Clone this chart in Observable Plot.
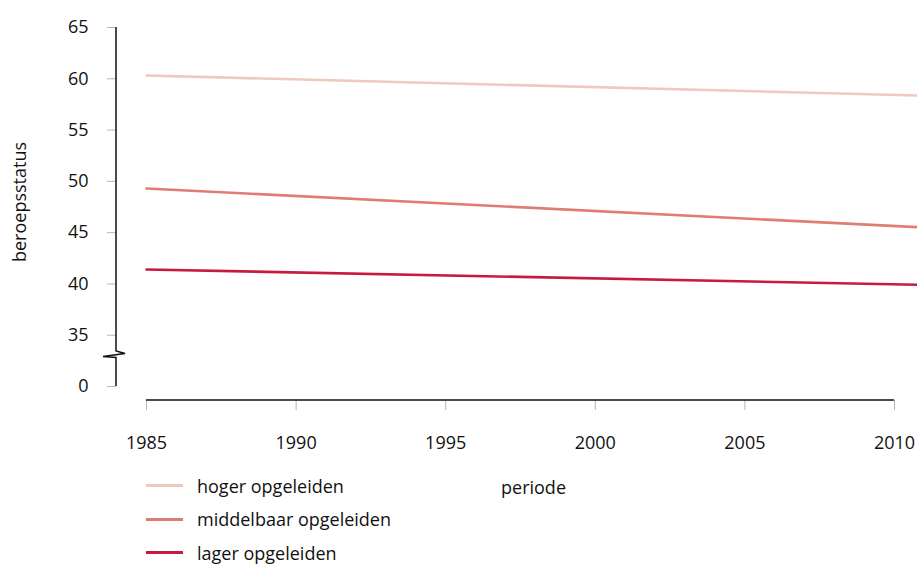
<!DOCTYPE html>
<html>
<head>
<meta charset="utf-8">
<script src="https://cdn.jsdelivr.net/npm/d3@7"></script>
<script src="https://cdn.jsdelivr.net/npm/@observablehq/plot@0.6"></script>
<style>
  html, body { margin: 0; padding: 0; background: #fff; overflow: hidden; }
  #wrap { position: relative; width: 917px; height: 565px; font-family: "Open Sans", sans-serif; color: #111; }
  #legend { position: absolute; left: 146px; top: 469px; font-size: 18px; }
  .row { display: flex; align-items: center; height: 33.5px; }
  .sw { width: 37px; height: 3px; margin-right: 14px; }
</style>
</head>
<body>
<div id="wrap"></div>
<script>
// Data
const years = [1985, 2011];
const seriesNames = ["hoger opgeleiden", "middelbaar opgeleiden", "lager opgeleiden"];
const hoger = [60.32, 58.35];
const middelbaar = [49.30, 45.50];
const lager = [41.41, 39.90];
const seriesColors = ["#f0c8bf", "#df7d73", "#c81a3f"];
const yTicks = [30, 35, 40, 45, 50, 55, 60, 65];
const yTickLabels = ["0", "35", "40", "45", "50", "55", "60", "65"];
const xTicks = [1985, 1990, 1995, 2000, 2005, 2010];

const seriesValues = [hoger, middelbaar, lager];
const rows = [];
seriesNames.forEach((name, i) => {
  years.forEach((yr, j) => rows.push({series: name, year: yr, value: seriesValues[i][j]}));
});

const W = 917, H = 500;
const plot = Plot.plot({
  width: W,
  height: H,
  marginLeft: 146,
  marginRight: 23,
  marginTop: 27,
  marginBottom: H - 386,
  style: {fontFamily: "'Open Sans', sans-serif", fontSize: "18px", color: "#111", background: "white"},
  x: {domain: [1985, 2010], axis: null},
  y: {domain: [30, 65], axis: null},
  color: {domain: seriesNames, range: seriesColors},
  marks: [
    // y ticks (gray) and labels
    Plot.axisY(yTicks, {anchor: "left", dx: -30, tickSize: 9, stroke: "#b5b5b5", tickFormat: () => "", label: null}),
    Plot.axisY(yTicks, {anchor: "left", dx: -30, tickSize: 0, tickPadding: 28, tickFormat: d => yTickLabels[yTicks.indexOf(d)], fill: "#111", label: null}),
    // x ticks and labels
    Plot.axisX(xTicks, {anchor: "bottom", dy: 14, tickSize: 10, stroke: "#b5b5b5", tickFormat: () => "", label: null}),
    Plot.axisX(xTicks, {anchor: "bottom", dy: 14, tickSize: 0, tickPadding: 36, tickFormat: d => String(d), fill: "#111", label: null}),
    // lines
    Plot.line(rows, {x: "year", y: "value", z: "series", stroke: "series", strokeWidth: 2.6}),
    // axis titles
    Plot.text(["periode"], {frameAnchor: "bottom", dx: 13, dy: 107, fill: "#111"}),
    Plot.text(["beroepsstatus"], {frameAnchor: "left", textAnchor: "middle", dx: -126, dy: -5, rotate: -90, fill: "#111"})
  ]
});

// axis lines with a break, placed via the scales
const xs = plot.scale("x"), ys = plot.scale("y");
const svg = d3.select(plot);
const x0 = xs.apply(1985) - 30;
const yTop = ys.apply(65), yBot = ys.apply(30);
const yb = yBot - 32;
svg.append("path")
  .attr("fill", "none").attr("stroke", "#111").attr("stroke-width", 1.5)
  .attr("d", `M${x0},${yTop}V${yb - 3}L${x0 + 9},${yb - 0.5}L${x0 - 13},${yb + 2.5}L${x0},${yb + 3.5}V${yBot}`);
svg.append("line")
  .attr("stroke", "#111").attr("stroke-width", 1.5)
  .attr("x1", xs.apply(1985)).attr("x2", xs.apply(2010))
  .attr("y1", yBot + 14).attr("y2", yBot + 14);

const wrap = document.getElementById("wrap");
wrap.appendChild(plot);

const legend = document.createElement("div");
legend.id = "legend";
seriesNames.forEach((name, i) => {
  const r = document.createElement("div");
  r.className = "row";
  const sw = document.createElement("span");
  sw.className = "sw";
  sw.style.background = seriesColors[i];
  const t = document.createElement("span");
  t.textContent = name;
  r.appendChild(sw); r.appendChild(t);
  legend.appendChild(r);
});
wrap.appendChild(legend);
</script>
</body>
</html>
